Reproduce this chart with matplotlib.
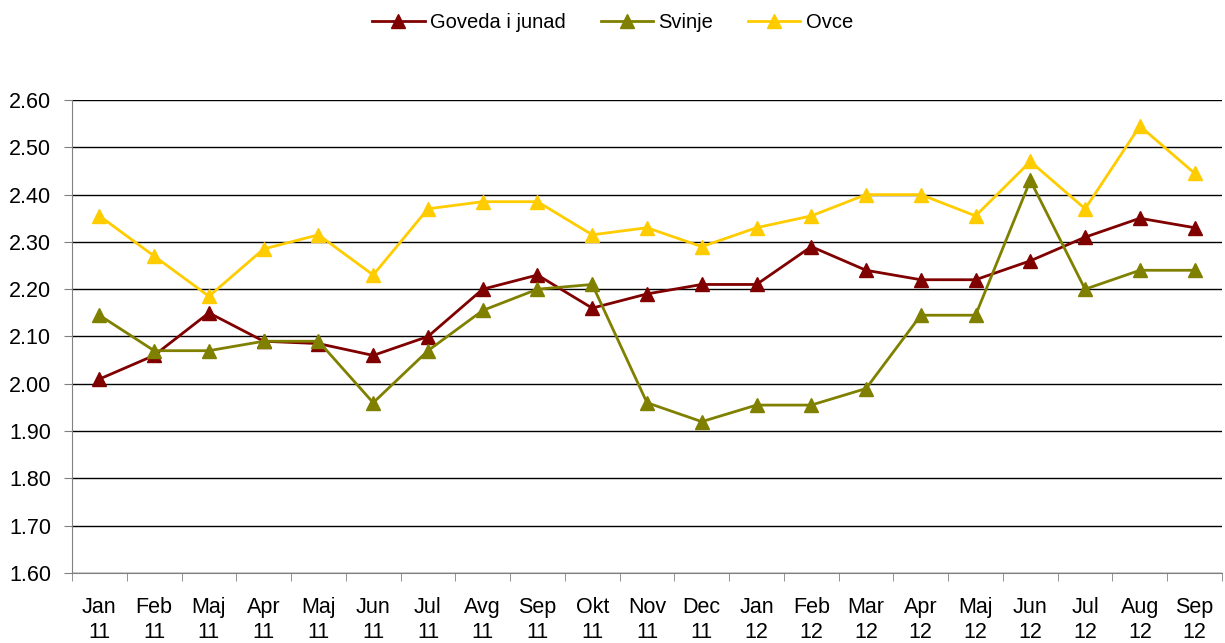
import matplotlib
matplotlib.use("Agg")
import matplotlib.pyplot as plt
import numpy as np

plt.rcParams['font.family'] = ['Liberation Sans', 'DejaVu Sans']

months = ["Jan", "Feb", "Maj", "Apr", "Maj", "Jun", "Jul", "Avg", "Sep", "Okt", "Nov", "Dec",
          "Jan", "Feb", "Mar", "Apr", "Maj", "Jun", "Jul", "Aug", "Sep"]
years = ["11"] * 12 + ["12"] * 9
labels = [f"{m}\n{y}" for m, y in zip(months, years)]

goveda = [2.01, 2.06, 2.15, 2.09, 2.085, 2.06, 2.10, 2.20, 2.23, 2.16, 2.19, 2.21,
          2.21, 2.29, 2.24, 2.22, 2.22, 2.26, 2.31, 2.35, 2.33]
svinje = [2.145, 2.07, 2.07, 2.09, 2.09, 1.96, 2.07, 2.155, 2.20, 2.21, 1.96, 1.92,
          1.955, 1.955, 1.99, 2.145, 2.145, 2.43, 2.20, 2.24, 2.24]
ovce = [2.355, 2.27, 2.185, 2.285, 2.315, 2.23, 2.37, 2.385, 2.385, 2.315, 2.33, 2.29,
        2.33, 2.355, 2.40, 2.40, 2.355, 2.47, 2.37, 2.545, 2.445]

series = [("Goveda i junad", goveda, "#800000"),
          ("Svinje", svinje, "#808000"),
          ("Ovce", ovce, "#FFCC00")]

fig = plt.figure(figsize=(12.25, 6.43), dpi=100)
ax = fig.add_axes([72/1225, 1-573/643, (1222-72)/1225, (573-100)/643])

x = np.arange(len(labels))
for name, vals, col in series:
    ax.plot(x, vals, color=col, lw=2, marker='^', markersize=9.5, label=name, zorder=3)

ax.set_xlim(-0.5, len(labels) - 0.5)
ax.set_ylim(1.60, 2.60)
yt = np.arange(1.60, 2.601, 0.10)
ax.set_yticks(yt)
ax.set_yticklabels([f"{v:.2f}" for v in yt], fontsize=15.5)
ax.grid(axis='y', color='black', lw=1)
ax.set_axisbelow(True)

ax.set_xticks(x)
ax.set_xticklabels(labels, fontsize=15.5, linespacing=1.3, va='top')
ax.tick_params(axis='x', length=0, pad=17)
ax.set_xticks(np.arange(-0.5, len(labels)), minor=True)
ax.tick_params(axis='x', which='minor', length=6, color='#808080')
ax.tick_params(axis='y', length=6, color='#808080', pad=9)

for s in ['top', 'right']:
    ax.spines[s].set_visible(False)
ax.spines['left'].set_color('#808080')
ax.spines['bottom'].set_color('#808080')

fig.legend(loc='center', bbox_to_anchor=(0.5, 1 - 23/643), ncol=3, frameon=False,
           fontsize=14.5, handlelength=2.6, handletextpad=0.25, columnspacing=1.75,
           borderpad=0, borderaxespad=0)

fig.savefig("out.png", dpi=100)
